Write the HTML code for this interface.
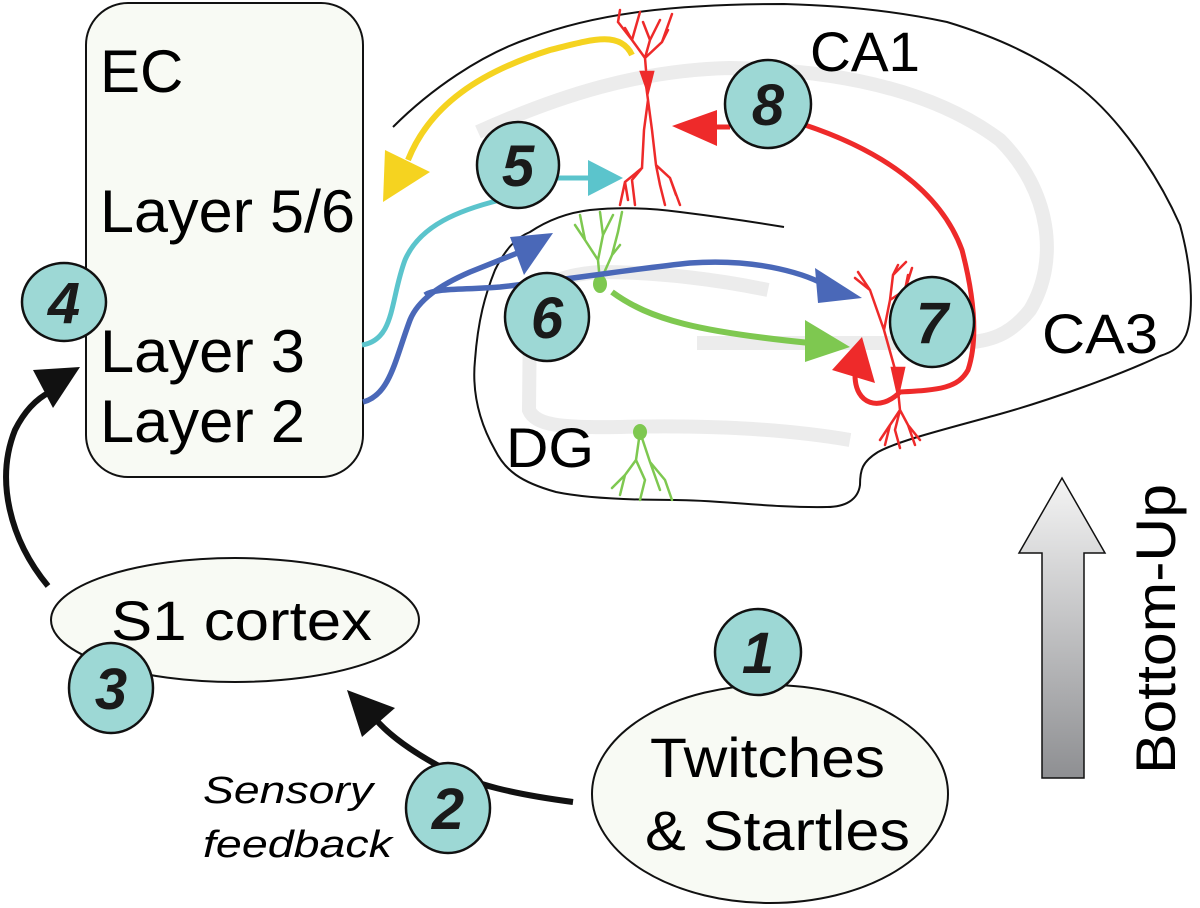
<!DOCTYPE html>
<html><head><meta charset="utf-8"><style>
html,body{margin:0;padding:0;background:#fff;}
svg{display:block;}
text{font-family:"Liberation Sans",sans-serif;}
.n{font-weight:bold;font-style:italic;font-size:58px;fill:#1a1a1a;}
.c{fill:#9dd8d5;stroke:#111;stroke-width:2.5;}
</style></head><body>
<svg width="1200" height="908" viewBox="0 0 1200 908" xmlns="http://www.w3.org/2000/svg">
<defs>
<linearGradient id="g" x1="0" y1="0" x2="0" y2="1">
<stop offset="0" stop-color="#f4f4f4"/><stop offset="1" stop-color="#8e8f92"/>
</linearGradient>
</defs>
<rect x="86" y="3" width="277" height="474" rx="42" fill="#f8faf4" stroke="#111" stroke-width="2"/>
<text x="100" y="92" font-size="60">EC</text>
<text x="100" y="232" font-size="60" textLength="255" lengthAdjust="spacingAndGlyphs">Layer 5/6</text>
<text x="100" y="372" font-size="60" textLength="205" lengthAdjust="spacingAndGlyphs">Layer 3</text>
<text x="100" y="442" font-size="60" textLength="205" lengthAdjust="spacingAndGlyphs">Layer 2</text>

<path d="M478,132 C560,95 640,70 730,68 C850,70 940,95 1000,140 C1050,190 1060,260 1030,310 C1010,335 990,342 960,343 L697,343" fill="none" stroke="#ececec" stroke-width="14"/>
<path d="M768,290 C720,280 660,272 600,272 C560,275 535,285 530,310 L529,410 C535,425 560,428 620,427 C700,425 780,428 850,440" fill="none" stroke="#ececec" stroke-width="14"/>

<path d="M393,127 C430,90 480,55 530,38 C600,12 680,4 784,4 C860,6 910,14 947,22 C1000,38 1040,58 1070,80 C1120,115 1160,180 1180,225 C1195,280 1192,320 1186,335 C1180,348 1172,352 1160,356 C1120,375 1050,400 1000,414 C950,428 900,440 878,452 C862,462 860,470 860,485 C858,500 845,507 827,507 C770,508 720,500 675,500 C620,500 580,497 556,492 C520,482 505,470 495,450 C478,420 472,390 475,360 C478,320 485,295 495,270 C505,250 515,238 530,232 C545,222 565,213 590,210 C620,207 650,208 680,212 C720,217 760,223 784,227" fill="none" stroke="#111" stroke-width="2"/>

<text x="810" y="71" font-size="56" textLength="110" lengthAdjust="spacingAndGlyphs">CA1</text>
<text x="1042" y="353" font-size="56" textLength="116" lengthAdjust="spacingAndGlyphs">CA3</text>
<text x="506" y="467" font-size="56" textLength="88" lengthAdjust="spacingAndGlyphs">DG</text>

<g stroke="#ee2a2a" stroke-width="2.5" fill="none" stroke-linecap="round">
<path d="M646,70 L645,58 L632,40 L618,22 M632,40 L625,28 M645,58 L650,40 L643,22 M650,40 L660,20 M645,58 L662,42 L672,14 M662,42 L668,30 M632,40 L640,12 M618,22 L620,10"/>
<path d="M646,85 L648,100 L644,130 L642,168 L625,182 L620,205 M642,168 L632,180 L635,205 M648,100 L652,130 L656,165 L670,178 L680,205 M656,165 L660,185 L665,205 M670,178 L676,195 M625,182 L628,200"/>
<path d="M641,72 L653,72 L648,92 Z" fill="#ee2a2a"/>
</g>
<g stroke="#ee2a2a" stroke-width="2.5" fill="none" stroke-linecap="round">
<path d="M898,380 L884,330 L870,290 L858,272 M870,290 L855,278 M884,330 L890,300 L893,275 L898,265 M893,275 L906,262 M890,300 L905,290 L912,268 M905,290 L908,275"/>
<path d="M898,390 L900,410 L890,425 L885,445 M900,410 L908,425 L920,440 M908,425 L915,445 M900,410 L895,430 L900,448 M890,425 L880,440"/>
<path d="M892,368 L904,368 L898,395 Z" fill="#ee2a2a"/>
</g>
<g stroke="#7ec850" stroke-width="2.5" fill="none" stroke-linecap="round">
<path d="M600,282 L598,260 L585,240 L575,225 M585,240 L580,215 M598,260 L603,235 L600,212 M603,235 L613,215 M600,282 L612,255 L618,232 L622,212 M612,255 L620,245"/>
<path d="M640,432 L636,460 L625,475 L620,495 M636,460 L645,480 L640,500 M640,432 L650,462 L665,480 L672,500 M650,462 L660,490 M625,475 L612,488"/>
</g>
<ellipse cx="600" cy="284" rx="7" ry="9" fill="#7ec850"/>
<ellipse cx="640" cy="432" rx="7" ry="8" fill="#7ec850"/>

<path d="M632,55 C620,30 590,40 550,50 C480,72 430,105 408,160" fill="none" stroke="#f5d320" stroke-width="6"/>
<polygon points="383,202 385,150 430,172" fill="#f5d320"/>
<path d="M362,345 C395,340 390,300 405,260 C420,225 460,210 500,200 M555,178 L590,178" fill="none" stroke="#5bc4cc" stroke-width="5"/>
<polygon points="623,178 588,160 588,196" fill="#5bc4cc"/>
<path d="M363,402 C390,395 395,360 410,320 C418,300 440,285 470,272 L520,252 M425,295 C435,288 460,290 500,287 C580,278 640,268 690,263 C760,258 810,275 830,288" fill="none" stroke="#4a68b8" stroke-width="5.5"/>
<polygon points="553,233 510,237 524,275" fill="#4a68b8"/>
<polygon points="862,298 815,268 818,303" fill="#4a68b8"/>
<path d="M612,292 C650,320 700,332 810,343" fill="none" stroke="#7ec850" stroke-width="6"/>
<polygon points="850,347 805,320 805,362" fill="#7ec850"/>
<path d="M805,125 C880,150 940,190 962,250 C975,300 978,340 968,370 C958,388 940,390 900,392 C880,412 855,405 855,375" fill="none" stroke="#ee2a2a" stroke-width="5"/>
<polygon points="862,337 832,370 875,383" fill="#ee2a2a"/>
<polygon points="672,126 717,110 717,146" fill="#ee2a2a"/>
<line x1="715" y1="127" x2="730" y2="127" stroke="#ee2a2a" stroke-width="5"/>

<path d="M48,586 C10,540 -5,480 15,430 C25,410 38,398 50,392" fill="none" stroke="#111" stroke-width="6"/>
<polygon points="80,367 33,370 53,408" fill="#111"/>
<path d="M573,802 C520,795 470,785 437,765 C410,750 390,735 378,722" fill="none" stroke="#111" stroke-width="6"/>
<polygon points="347,690 362,737 395,708" fill="#111"/>

<ellipse cx="235" cy="620" rx="184" ry="62" fill="#f8faf4" stroke="#111" stroke-width="2"/>
<text x="111" y="640" font-size="56" textLength="261" lengthAdjust="spacingAndGlyphs">S1 cortex</text>
<ellipse cx="770" cy="794" rx="178" ry="109" fill="#f8faf4" stroke="#111" stroke-width="2"/>
<text x="650" y="777" font-size="56" textLength="235" lengthAdjust="spacingAndGlyphs">Twitches</text>
<text x="645" y="850" font-size="56" textLength="265" lengthAdjust="spacingAndGlyphs">&amp; Startles</text>
<text x="203" y="803" font-size="38" font-style="italic" textLength="170" lengthAdjust="spacingAndGlyphs">Sensory</text>
<text x="203" y="857" font-size="38" font-style="italic" textLength="189" lengthAdjust="spacingAndGlyphs">feedback</text>

<polygon points="1062,478 1105,553 1084,553 1084,778 1042,778 1042,553 1019,553" fill="url(#g)" stroke="#111" stroke-width="1.5"/>
<text transform="translate(1175,629) rotate(-90)" text-anchor="middle" font-size="56" textLength="290" lengthAdjust="spacingAndGlyphs">Bottom-Up</text>

<ellipse class="c" cx="64" cy="302" rx="42" ry="39"/><text class="n" x="64" y="323" text-anchor="middle">4</text>
<ellipse class="c" cx="518" cy="165" rx="41" ry="43"/><text class="n" x="518" y="186" text-anchor="middle">5</text>
<ellipse class="c" cx="768" cy="104" rx="43" ry="44"/><text class="n" x="768" y="125" text-anchor="middle">8</text>
<ellipse class="c" cx="547" cy="317" rx="42" ry="44"/><text class="n" x="547" y="338" text-anchor="middle">6</text>
<ellipse class="c" cx="932" cy="322" rx="42" ry="45"/><text class="n" x="932" y="343" text-anchor="middle">7</text>
<ellipse class="c" cx="111" cy="688" rx="42" ry="45"/><text class="n" x="111" y="709" text-anchor="middle">3</text>
<ellipse class="c" cx="448" cy="808" rx="42" ry="45"/><text class="n" x="448" y="829" text-anchor="middle">2</text>
<ellipse class="c" cx="758" cy="652" rx="43" ry="43"/><text class="n" x="758" y="673" text-anchor="middle">1</text>
</svg>
</body></html>
